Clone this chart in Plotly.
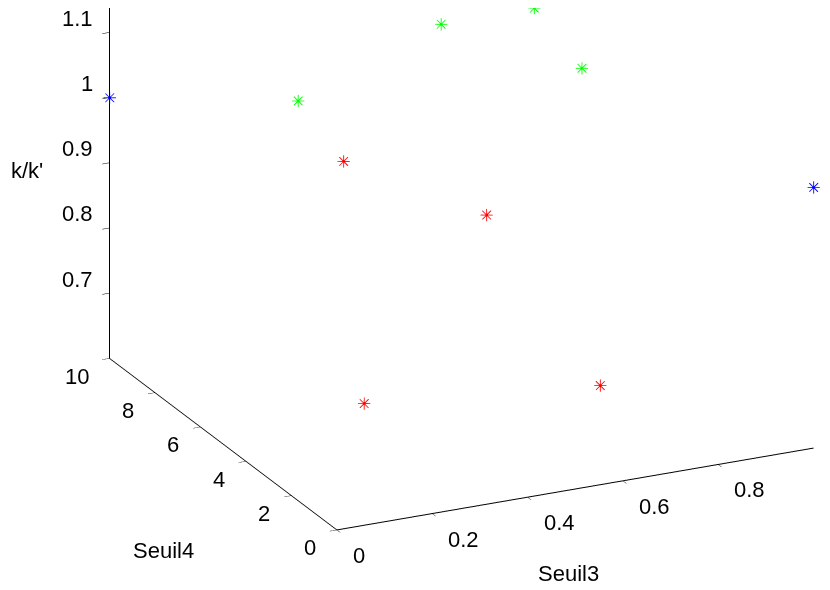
import plotly.graph_objects as go

# Data: (Seuil3, Seuil4, k/k') per colour group
blue_s3 = [0.0, 1.0]
blue_s4 = [10.0, 0.0]
blue_k = [1.0, 1.0]

red_s3 = [0.2, 0.6, 0.3, 0.6]
red_s4 = [3.0, 1.0, 6.0, 6.0]
red_k = [0.69, 0.72, 0.97, 0.85]

green_s3 = [0.3, 0.6, 0.7, 0.8]
green_s4 = [8.0, 8.0, 6.0, 6.0]
green_k = [1.01, 1.09, 1.155, 1.05]

x_ticks = [0, 0.2, 0.4, 0.6, 0.8]
x_labels = ["0", "0.2", "0.4", "0.6", "0.8"]
y_ticks = [0, 2, 4, 6, 8, 10]
y_labels = ["0", "2", "4", "6", "8", "10"]
z_ticks = [0.7, 0.8, 0.9, 1.0, 1.1]
z_labels = ["0.7", "0.8", "0.9", "1", "1.1"]

X_RANGE = [0, 1]
Y_RANGE = [0, 10]
Z_RANGE = [0.6, 1.2]

fig = go.Figure()
for xs, ys, zs, col in [(blue_s3, blue_s4, blue_k, "#0000ff"),
                        (red_s3, red_s4, red_k, "#ff0000"),
                        (green_s3, green_s4, green_k, "#00ff00")]:
    fig.add_trace(go.Scatter3d(x=xs, y=ys, z=zs, mode="text", text=["✳"] * len(xs),
                               textposition="middle center",
                               textfont=dict(color=col, size=17, family="DejaVu Sans"),
                               showlegend=False, hoverinfo="skip"))

font = dict(family="Liberation Sans, Arial", size=22, color="black")
axis_common = dict(showbackground=False, showgrid=False, zeroline=False, showline=True,
                   linecolor="black", linewidth=2, ticks="outside", tickcolor="black",
                   ticklen=8, showspikes=False, color="black", showticklabels=False,
                   title_text="")

# tick labels placed as scene annotations at the tick positions
scene_ann = []
for v, t in zip(x_ticks, x_labels):
    scene_ann.append(dict(x=v, y=Y_RANGE[0], z=Z_RANGE[0], text=t, showarrow=False,
                          xanchor="left", yanchor="middle", xshift=14, yshift=-25.5, font=font))
for v, t in zip(y_ticks, y_labels):
    scene_ann.append(dict(x=X_RANGE[0], y=v, z=Z_RANGE[0], text=t, showarrow=False,
                          xanchor="right", yanchor="middle", xshift=-19, yshift=-18, font=font))
for v, t in zip(z_ticks, z_labels):
    scene_ann.append(dict(x=X_RANGE[0], y=Y_RANGE[1], z=v, text=t, showarrow=False,
                          xanchor="right", yanchor="middle", xshift=-15, yshift=14, font=font))

zoom = 1.79
c = (-0.1177, 0.0565, -0.3466)
d = (-0.4017, -0.8421, 0.36)
m = 2.0

# axis titles (pixel positions in the page, page has an 8px body margin)
W, H, OFF = 830, 590, 8
titles = [("Seuil3", 568, 573), ("Seuil4", 163, 550), ("k/k'", 27, 171)]

fig.update_layout(
    width=W, height=H, paper_bgcolor="white", plot_bgcolor="white",
    margin=dict(l=0, r=0, t=0, b=0),
    scene=dict(
        domain=dict(x=[0, 1], y=[0, 1]),
        xaxis=dict(range=X_RANGE, tickvals=x_ticks, **axis_common),
        yaxis=dict(range=Y_RANGE, tickvals=y_ticks, **axis_common),
        zaxis=dict(range=Z_RANGE, tickvals=z_ticks, **axis_common),
        aspectmode="manual", aspectratio=dict(x=zoom, y=zoom, z=0.794 * zoom),
        camera=dict(projection=dict(type="orthographic"),
                    eye=dict(x=c[0] + m * d[0], y=c[1] + m * d[1], z=c[2] + m * d[2]),
                    center=dict(x=c[0], y=c[1], z=c[2]),
                    up=dict(x=0, y=0, z=1)),
        annotations=scene_ann,
    ),
    annotations=[
        dict(text=t, x=(px - OFF) / W, y=1 - (py - OFF) / H, xref="paper", yref="paper",
             xanchor="center", yanchor="middle", showarrow=False, font=font)
        for t, px, py in titles
    ],
)
fig.write_html("out.html")
